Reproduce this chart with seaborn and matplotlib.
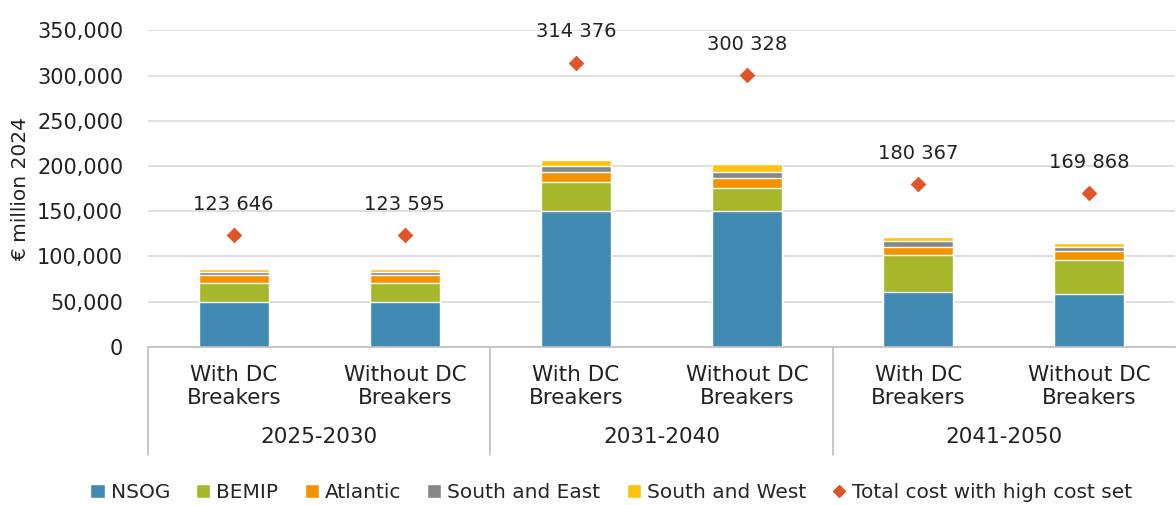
import numpy as np
import pandas as pd
import seaborn as sns
import matplotlib.pyplot as plt
from matplotlib.lines import Line2D
from matplotlib.patches import Patch

periods = ['2025-2030', '2031-2040', '2041-2050']
variants = ['With DC\nBreakers', 'Without DC\nBreakers']
series = ['NSOG', 'BEMIP', 'Atlantic', 'South and East', 'South and West']
nsog = [49500, 49500, 150000, 150000, 60800, 58600]
bemip = [21300, 21300, 32600, 26000, 41100, 37000]
atlantic = [8800, 8800, 11100, 10700, 8100, 10400]
south_east = [3600, 3600, 6200, 6700, 6700, 4000]
south_west = [2500, 2500, 6300, 8900, 4400, 5200]
totals = [123646, 123595, 314376, 300328, 180367, 169868]
colors = ['#418AB3', '#A6B72B', '#F59200', '#878787', '#FFC20E']
marker_color = '#E0542A'

sns.set_style('white')
plt.rcParams['font.family'] = ['DejaVu Sans']

cats = [f'{p}|{v}' for p in periods for v in variants]
values = np.array([nsog, bemip, atlantic, south_east, south_west])
cum = values.cumsum(axis=0)

fig, ax = plt.subplots(figsize=(11.76, 5.05), dpi=100)
fig.subplots_adjust(left=0.126, right=0.999, top=0.94, bottom=0.313)

# stacked bars: draw the cumulative heights from top layer down
for i in range(len(series) - 1, -1, -1):
    df = pd.DataFrame({'cat': cats, 'val': cum[i]})
    sns.barplot(data=df, x='cat', y='val', order=cats, color=colors[i],
                width=0.41, saturation=1, ax=ax, zorder=2)

sns.scatterplot(x=np.arange(len(cats)), y=totals, marker='D', s=55,
                color=marker_color, edgecolor=marker_color, ax=ax, zorder=3)
for i, t in enumerate(totals):
    ax.annotate(f'{t:,}'.replace(',', ' '), (i, t), xytext=(0, 22),
                textcoords='offset points', ha='center', va='center',
                fontsize=14, color='#222222')

ax.set_ylim(0, 350000)
ax.set_xlim(-0.5, len(cats) - 0.5)
ax.set_yticks(np.arange(0, 350001, 50000))
ax.set_yticklabels([f'{v:,}' for v in np.arange(0, 350001, 50000)], fontsize=15, color='#222222')
ax.yaxis.grid(True, color='#D9D9D9', linewidth=1.2)
ax.set_axisbelow(True)
ax.set_xticks(range(len(cats)))
ax.set_xticklabels([v for p in periods for v in variants],
                   fontsize=15.5, color='#222222', linespacing=1.2)
ax.tick_params(axis='x', length=0, pad=13)
ax.tick_params(axis='y', length=0, pad=18)
ax.set_xlabel('')
ax.set_ylabel('€ million 2024', fontsize=14.5, color='#222222', labelpad=5)

for s in ['left', 'right', 'top']:
    ax.spines[s].set_visible(False)
ax.spines['bottom'].set_color('#BFBFBF')
ax.spines['bottom'].set_linewidth(1.2)

# group labels and separators
for k, p in enumerate(periods):
    ax.text(2 * k + 0.5, -0.285, p, transform=ax.get_xaxis_transform(),
            ha='center', va='center', fontsize=15.5, color='#222222')
for xs in [-0.5, 1.5, 3.5]:
    ax.plot([xs, xs], [0, -0.34], transform=ax.get_xaxis_transform(),
            color='#BFBFBF', linewidth=1.2, clip_on=False)

handles = [Patch(facecolor=c, label=s) for c, s in zip(colors, series)]
handles.append(Line2D([], [], marker='D', linestyle='none', markersize=6,
                      color=marker_color, label='Total cost with high cost set'))
fig.legend(handles=handles, loc='lower center', bbox_to_anchor=(0.52, -0.03),
           ncol=6, frameon=False, fontsize=14.5, handlelength=0.7, handleheight=0.7,
           handletextpad=0.3, columnspacing=1.3)

fig.savefig('out.png', dpi=100)
